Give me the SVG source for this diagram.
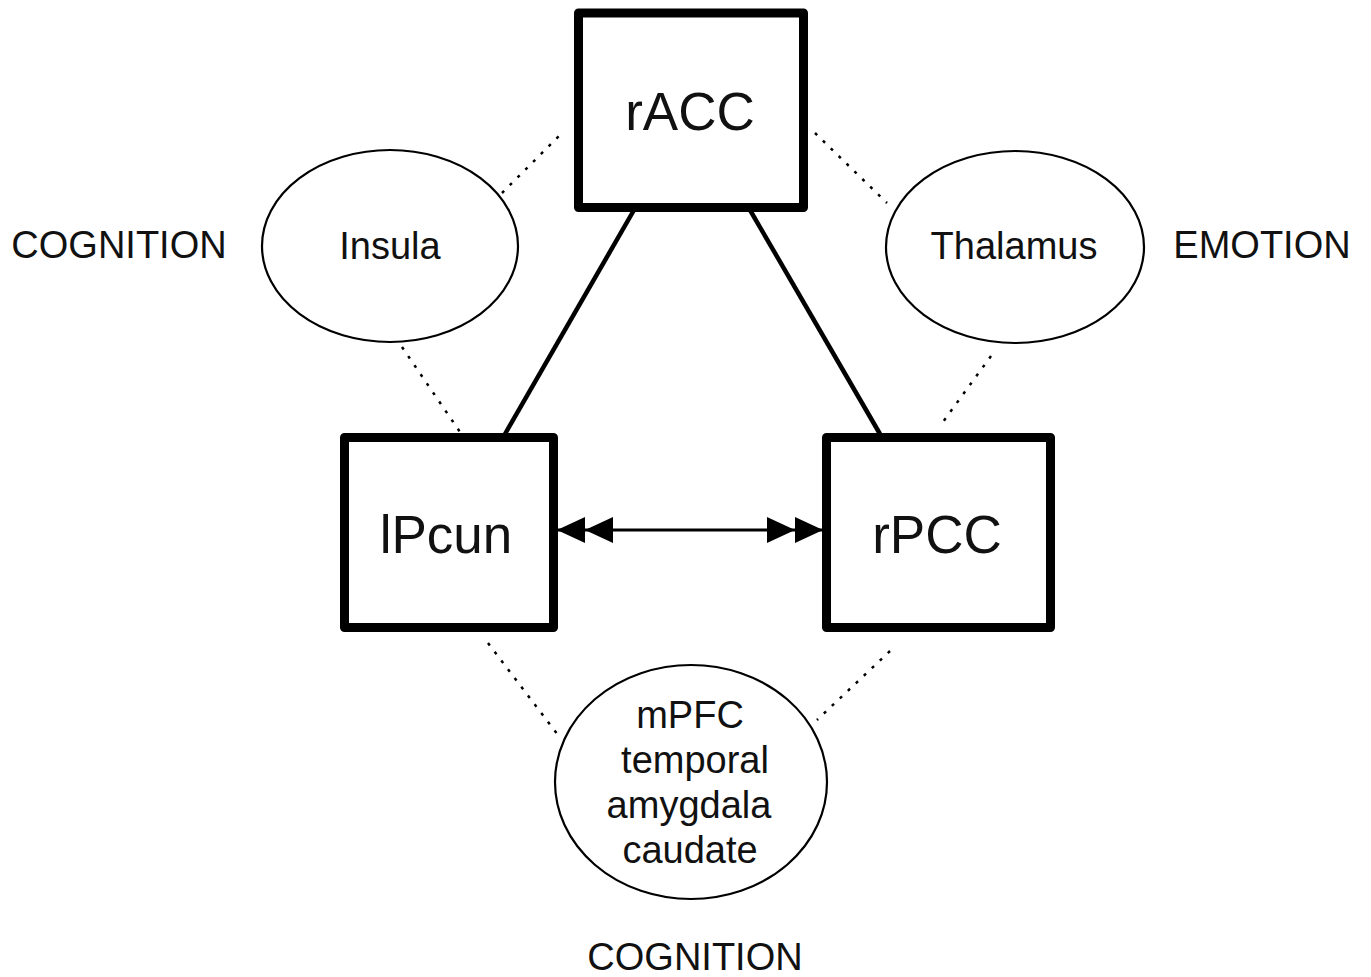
<svg xmlns="http://www.w3.org/2000/svg" width="1371" height="977" viewBox="0 0 1371 977">
  <style>
    .box { fill: #fff; stroke: #000; stroke-width: 9; stroke-linejoin: round; }
    .oval { fill: #fff; stroke: #000; stroke-width: 2.2; }
    .big { font-family: "Liberation Sans", Arial, sans-serif; font-size: 53px; fill: #111; text-anchor: middle; }
    .lbl { font-family: "Liberation Sans", Arial, sans-serif; font-size: 38px; fill: #111; text-anchor: middle; }
    .solid { stroke: #000; stroke-width: 4.5; fill: none; }
    .dot { stroke: #000; stroke-width: 2.5; stroke-dasharray: 3 8; fill: none; }
    .arr { stroke: #000; stroke-width: 3; fill: none; }
  </style>
  <defs>
    <marker id="dbl" viewBox="0 0 56 26" refX="56" refY="13" markerWidth="56" markerHeight="26" markerUnits="userSpaceOnUse" orient="auto-start-reverse">
      <path d="M0,0 L28,13 L0,26 Z M28,0 L56,13 L28,26 Z" fill="#000"/>
    </marker>
  </defs>
  <rect width="1371" height="977" fill="#fff"/>

  <!-- connectors -->
  <g id="connectors">
    <line class="solid" x1="634" y1="210" x2="505" y2="434"/>
    <line class="solid" x1="750" y1="210" x2="880" y2="434"/>
    <line class="arr" x1="557" y1="530" x2="823" y2="530" marker-start="url(#dbl)" marker-end="url(#dbl)"/>
    <line class="dot" x1="502" y1="193" x2="564" y2="131"/>
    <line class="dot" x1="402" y1="347" x2="460" y2="432"/>
    <line class="dot" x1="815" y1="133" x2="887" y2="203"/>
    <line class="dot" x1="991" y1="356" x2="940" y2="426"/>
    <line class="dot" x1="488" y1="643" x2="558" y2="735"/>
    <line class="dot" x1="890" y1="651" x2="817" y2="720"/>
  </g>

  <g id="rACC">
    <rect class="box" x="578.5" y="13" width="225" height="194.5"/>
    <text class="big" x="690" y="130">rACC</text>
  </g>
  <g id="lPcun">
    <rect class="box" x="344.5" y="437.5" width="209" height="190"/>
    <text class="big" x="446" y="553">lPcun</text>
  </g>
  <g id="rPCC">
    <rect class="box" x="826.5" y="437.5" width="224" height="190"/>
    <text class="big" x="937" y="553">rPCC</text>
  </g>

  <g id="insula">
    <ellipse class="oval" cx="390" cy="246" rx="128" ry="96"/>
    <text class="lbl" x="390" y="259">Insula</text>
  </g>
  <g id="thalamus">
    <ellipse class="oval" cx="1015" cy="247" rx="129" ry="96"/>
    <text class="lbl" x="1014" y="259">Thalamus</text>
  </g>
  <g id="mpfc">
    <ellipse class="oval" cx="691" cy="782" rx="136" ry="117"/>
    <text class="lbl" x="690" y="728">mPFC</text>
    <text class="lbl" x="695" y="773">temporal</text>
    <text class="lbl" x="689" y="818">amygdala</text>
    <text class="lbl" x="690" y="863">caudate</text>
  </g>

  <g id="labels">
    <text class="lbl" x="119" y="258">COGNITION</text>
    <text class="lbl" x="1262" y="258">EMOTION</text>
    <text class="lbl" x="695" y="970">COGNITION</text>
  </g>
</svg>
